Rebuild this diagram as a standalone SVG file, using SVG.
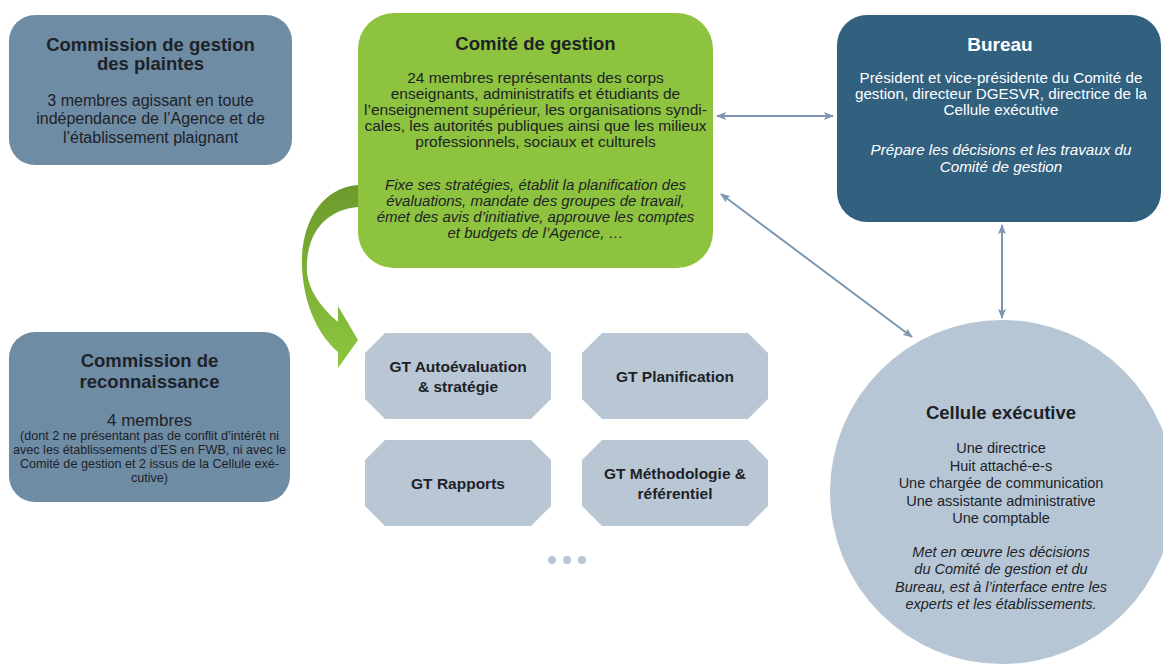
<svg xmlns="http://www.w3.org/2000/svg" width="1163" height="665" viewBox="0 0 1163 665">
<defs>
<style>
.t{font-family:"Liberation Sans",Arial,sans-serif;text-anchor:middle;fill:#1d2228}
.b{font-weight:bold}
.i{font-style:italic}
.w{fill:#ffffff}
.comm{fill:#6f8ca5}
.gt{fill:#b9c7d4}
.con{stroke:#7d97b1;stroke-width:2;fill:none;marker-start:url(#ah);marker-end:url(#ah)}
</style>
<marker id="ah" viewBox="0 0 10 8" refX="9" refY="4" markerWidth="10" markerHeight="8" markerUnits="userSpaceOnUse" orient="auto-start-reverse">
<path d="M0,0 L10,4 L0,8 L2,4 z" fill="#7d97b1"/>
</marker>
<linearGradient id="gg" x1="0" y1="0" x2="0" y2="1">
<stop offset="0" stop-color="#6c9a2c"/>
<stop offset="1" stop-color="#8dc63f"/>
</linearGradient>
</defs>
<rect width="1163" height="665" fill="#ffffff"/>

<g id="connectors">
<line class="con" x1="717" y1="116" x2="833" y2="116"/>
<line class="con" x1="721" y1="194" x2="912" y2="337"/>
<line class="con" x1="1002" y1="225" x2="1002" y2="318"/>
</g>

<g id="arrow-comite-gt">
<path d="M358,185 C320,188 300,225 302,268 C304,305 318,335 338,352 L338,368 L358,340 L338,306 L338,322 C322,308 309,292 307,272 C305,238 322,210 358,207 Z" fill="url(#gg)"/>
</g>

<g id="commission-plaintes">
<rect class="comm" x="9" y="15" width="283" height="150" rx="26"/>
<text class="t b" x="150.5" y="50.5" font-size="18.5">Commission de gestion</text>
<text class="t b" x="150.5" y="69.5" font-size="18.5">des plaintes</text>
<text class="t" x="150.5" y="105.5" font-size="16">3 membres agissant en toute</text>
<text class="t" x="150.5" y="124" font-size="16">indépendance de l’Agence et de</text>
<text class="t" x="150.5" y="142.5" font-size="16">l’établissement plaignant</text>
</g>

<g id="comite-gestion">
<rect x="358" y="13" width="355" height="255" rx="36" fill="#8dc33e"/>
<text class="t b" x="535.5" y="49.5" font-size="18.5">Comité de gestion</text>
<text class="t" x="535.5" y="83" font-size="15.5">24 membres représentants des corps</text>
<text class="t" x="535.5" y="99" font-size="15.5">enseignants, administratifs et étudiants de</text>
<text class="t" x="535.5" y="115" font-size="15.5">l’enseignement supérieur, les organisations syndi-</text>
<text class="t" x="535.5" y="131" font-size="15.5">cales, les autorités publiques ainsi que les milieux</text>
<text class="t" x="535.5" y="147" font-size="15.5">professionnels, sociaux et culturels</text>
<text class="t i" x="535.5" y="190" font-size="15">Fixe ses stratégies, établit la planification des</text>
<text class="t i" x="535.5" y="206" font-size="15">évaluations, mandate des groupes de travail,</text>
<text class="t i" x="535.5" y="222" font-size="15">émet des avis d’initiative, approuve les comptes</text>
<text class="t i" x="535.5" y="238" font-size="15">et budgets de l’Agence, …</text>
</g>

<g id="bureau">
<rect x="837" y="15" width="324" height="207" rx="30" fill="#32607f"/>
<text class="t b w" x="1000" y="50.5" font-size="19">Bureau</text>
<text class="t w" x="1001" y="83" font-size="15.2">Président et vice-présidente du Comité de</text>
<text class="t w" x="1001" y="99" font-size="15.2">gestion, directeur DGESVR, directrice de la</text>
<text class="t w" x="1001" y="115" font-size="15.2">Cellule exécutive</text>
<text class="t i w" x="1001" y="155" font-size="15.2">Prépare les décisions et les travaux du</text>
<text class="t i w" x="1001" y="172" font-size="15.2">Comité de gestion</text>
</g>

<g id="commission-reconnaissance">
<rect class="comm" x="9" y="332" width="281" height="170" rx="26"/>
<text class="t b" x="149.5" y="366.5" font-size="18.5">Commission de</text>
<text class="t b" x="149.5" y="387.5" font-size="18.5">reconnaissance</text>
<text class="t" x="149.5" y="426" font-size="17">4 membres</text>
<text class="t" x="149.5" y="439.5" font-size="12.6">(dont 2 ne présentant pas de conflit d’intérêt ni</text>
<text class="t" x="149.5" y="453.5" font-size="12.6">avec les établissements d’ES en FWB, ni avec le</text>
<text class="t" x="149.5" y="467.5" font-size="12.6">Comité de gestion et 2 issus de la Cellule exé-</text>
<text class="t" x="149.5" y="481.5" font-size="12.6">cutive)</text>
</g>

<g id="gt-autoevaluation">
<polygon class="gt" points="385,333 531,333 551,353 551,399 531,419 385,419 365,399 365,353"/>
<text class="t b" x="458" y="372" font-size="15.5">GT Autoévaluation</text>
<text class="t b" x="458" y="392" font-size="15.5">&amp; stratégie</text>
</g>

<g id="gt-planification">
<polygon class="gt" points="602,333 748,333 768,353 768,399 748,419 602,419 582,399 582,353"/>
<text class="t b" x="675" y="381.5" font-size="15.5">GT Planification</text>
</g>

<g id="gt-rapports">
<polygon class="gt" points="385,440 531,440 551,460 551,506 531,526 385,526 365,506 365,460"/>
<text class="t b" x="458" y="488.5" font-size="15.5">GT Rapports</text>
</g>

<g id="gt-methodologie">
<polygon class="gt" points="602,440 748,440 768,460 768,506 748,526 602,526 582,506 582,460"/>
<text class="t b" x="675" y="478.5" font-size="15.5">GT Méthodologie &amp;</text>
<text class="t b" x="675" y="498.5" font-size="15.5">référentiel</text>
</g>

<g id="dots">
<circle cx="552" cy="560" r="4" fill="#b9c7d4"/>
<circle cx="567" cy="560" r="4" fill="#b9c7d4"/>
<circle cx="582" cy="560" r="4" fill="#b9c7d4"/>
</g>

<g id="cellule-executive">
<circle cx="1002" cy="492" r="172" fill="#b6c6d4"/>
<text class="t b" x="1001" y="418.5" font-size="18.5">Cellule exécutive</text>
<text class="t" x="1001" y="453" font-size="14.5">Une directrice</text>
<text class="t" x="1001" y="470.5" font-size="14.5">Huit attaché-e-s</text>
<text class="t" x="1001" y="488" font-size="14.5">Une chargée de communication</text>
<text class="t" x="1001" y="505.5" font-size="14.5">Une assistante administrative</text>
<text class="t" x="1001" y="523" font-size="14.5">Une comptable</text>
<text class="t i" x="1001" y="557" font-size="14.5">Met en œuvre les décisions</text>
<text class="t i" x="1001" y="574" font-size="14.5">du Comité de gestion et du</text>
<text class="t i" x="1001" y="592" font-size="14.5">Bureau, est à l’interface entre les</text>
<text class="t i" x="1001" y="609" font-size="14.5">experts et les établissements.</text>
</g>
</svg>
